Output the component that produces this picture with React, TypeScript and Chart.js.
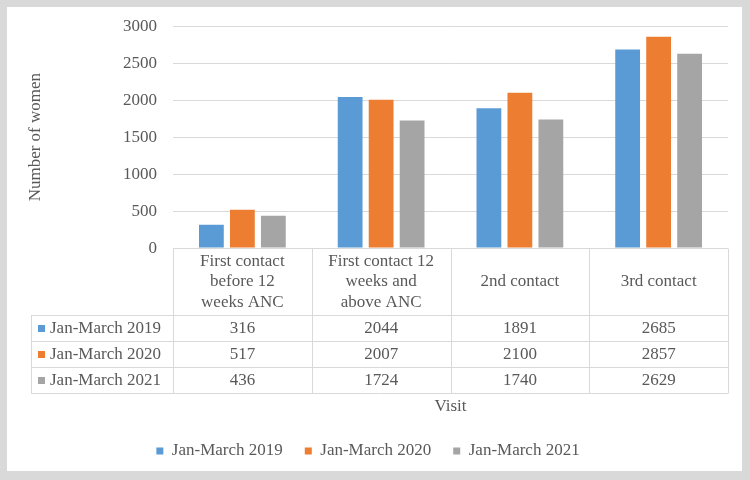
import React, { useEffect, useRef } from "react";
import { Chart, registerables } from "chart.js";

Chart.register(...registerables);

const categories: string[][] = [
  ["First contact", "before 12", "weeks ANC"],
  ["First contact 12", "weeks and", "above ANC"],
  ["2nd contact"],
  ["3rd contact"],
];
const seriesNames = ["Jan-March 2019", "Jan-March 2020", "Jan-March 2021"];
const values2019 = [316, 2044, 1891, 2685];
const values2020 = [517, 2007, 2100, 2857];
const values2021 = [436, 1724, 1740, 2629];
const yTicks = [0, 500, 1000, 1500, 2000, 2500, 3000];
const seriesColors = ["#5b9bd5", "#ed7d31", "#a5a5a5"];

const TEXT = "#595959";
const GRID = "#d9d9d9";
const FAMILY = "'Liberation Serif', 'Times New Roman', serif";
const FONT_SIZE = 17;

const framePlugin = {
  id: "frame",
  beforeDraw(chart: any) {
    const ctx = chart.ctx;
    ctx.save();
    ctx.fillStyle = "#d9d9d9";
    ctx.fillRect(0, 0, chart.width, chart.height);
    ctx.fillStyle = "#ffffff";
    ctx.fillRect(7, 7, chart.width - 15, chart.height - 16);
    ctx.restore();
  },
};

const tablePlugin = {
  id: "dataTable",
  afterDraw(chart: any) {
    const { ctx, chartArea, scales } = chart;
    const xs = scales.x;
    const labels = chart.data.labels as any[];
    const datasets = chart.data.datasets as any[];
    const n = labels.length;
    const colW = (chartArea.right - chartArea.left) / n;
    const headerH = 67;
    const rowH = 26;
    const labelLeft = 31;
    const y0 = Math.round(chartArea.bottom) + 0.5;
    const y1 = y0 + headerH;
    const yEnd = y1 + rowH * datasets.length;

    ctx.save();
    ctx.strokeStyle = GRID;
    ctx.lineWidth = 1;
    const line = (ax: number, ay: number, bx: number, by: number) => {
      ctx.beginPath();
      ctx.moveTo(ax, ay);
      ctx.lineTo(bx, by);
      ctx.stroke();
    };
    line(chartArea.left, y0, chartArea.right, y0);
    for (let r = 0; r <= datasets.length; r++) {
      line(labelLeft, y1 + r * rowH, chartArea.right, y1 + r * rowH);
    }
    line(labelLeft + 0.5, y1, labelLeft + 0.5, yEnd);
    for (let i = 0; i <= n; i++) {
      const xi = Math.round(chartArea.left + i * colW) + 0.5;
      line(xi, y0, xi, yEnd);
    }

    ctx.font = `${FONT_SIZE}px ${FAMILY}`;
    ctx.fillStyle = TEXT;
    ctx.textAlign = "center";
    ctx.textBaseline = "middle";
    const lh = 20.5;
    labels.forEach((lab: any, i: number) => {
      const cx = xs.getPixelForValue(i);
      const lines: string[] = Array.isArray(lab) ? lab : [lab];
      const cy = (y0 + y1) / 2;
      lines.forEach((t, k) => {
        ctx.fillText(t, cx, cy + (k - (lines.length - 1) / 2) * lh);
      });
    });

    datasets.forEach((ds: any, r: number) => {
      const cy = y1 + r * rowH + rowH / 2;
      ctx.fillStyle = ds.backgroundColor;
      ctx.fillRect(labelLeft + 7, Math.round(cy - 3.5), 7, 7);
      ctx.fillStyle = TEXT;
      ctx.textAlign = "left";
      ctx.fillText(ds.label, labelLeft + 19, cy);
      ctx.textAlign = "center";
      (ds.data as number[]).forEach((v, i) => {
        ctx.fillText(String(v), xs.getPixelForValue(i), cy);
      });
    });
    ctx.restore();
  },
};

export default function App() {
  const ref = useRef<HTMLCanvasElement | null>(null);

  useEffect(() => {
    if (!ref.current) return;
    Chart.defaults.font.family = FAMILY;
    Chart.defaults.font.size = FONT_SIZE;
    Chart.defaults.color = TEXT;
    const seriesValues = [values2019, values2020, values2021];
    const chart = new Chart(ref.current, {
      type: "bar",
      data: {
        labels: categories,
        datasets: seriesNames.map((name, i) => ({
          label: name,
          data: seriesValues[i],
          backgroundColor: seriesColors[i],
          borderWidth: 0,
          categoryPercentage: 0.67,
          barPercentage: 0.8,
        })),
      },
      options: {
        animation: false,
        responsive: false,
        devicePixelRatio: 1,
        layout: { padding: { left: 8, top: 22, right: 22, bottom: 10.5 } },
        plugins: {
          tooltip: { enabled: false },
          legend: {
            position: "bottom",
            labels: {
              boxWidth: 7,
              boxHeight: 7,
              padding: 22,
              color: TEXT,
              font: { family: FAMILY, size: FONT_SIZE },
            },
          },
        },
        scales: {
          x: {
            grid: { display: false, drawTicks: false },
            border: { display: false },
            ticks: { display: false },
            title: {
              display: true,
              text: "Visit",
              color: TEXT,
              font: { family: FAMILY, size: FONT_SIZE },
              padding: { top: 148, bottom: 4 },
            },
          },
          y: {
            min: 0,
            max: 3000,
            afterBuildTicks: (s: any) => {
              s.ticks = yTicks.map((v) => ({ value: v }));
            },
            afterFit: (s: any) => {
              s.width = 165;
            },
            grid: { color: GRID, drawTicks: false },
            border: { display: false },
            ticks: {
              padding: 16,
              color: TEXT,
              font: { family: FAMILY, size: FONT_SIZE },
              callback: (v: any) => String(v),
            },
            title: {
              display: true,
              text: "Number of women",
              color: TEXT,
              font: { family: FAMILY, size: FONT_SIZE },
              padding: { top: 17, bottom: 0 },
            },
          },
        },
      },
      plugins: [framePlugin, tablePlugin],
    });
    return () => chart.destroy();
  }, []);

  return (
    <div style={{ position: "fixed", left: 0, top: 0, width: 750, height: 480 }}>
      <canvas ref={ref} width={750} height={480} />
    </div>
  );
}
